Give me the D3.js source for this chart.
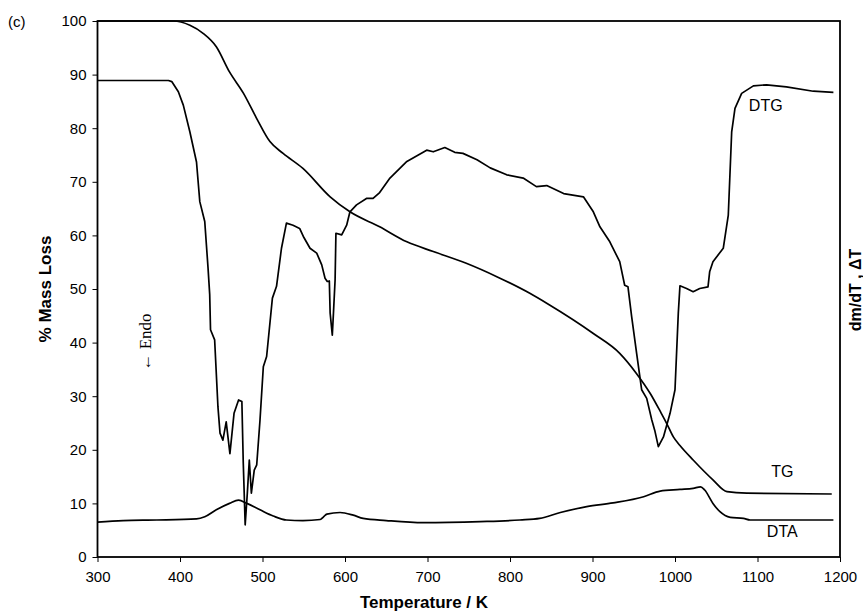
<!DOCTYPE html>
<html>
<head>
<meta charset="utf-8">
<script src="https://cdn.jsdelivr.net/npm/d3@7"></script>
<style>
  body { margin: 0; background: #fff; }
  svg { display: block; font-family: Arial, "Liberation Sans", sans-serif; }
</style>
</head>
<body>
<svg id="chart"></svg>
<script>
// Temperature (K) / value pairs
const tgTemp = [300, 392, 412, 428, 444, 460, 477, 493, 509, 525, 549, 582, 606, 642, 675, 707, 747, 784, 824, 845, 901, 933, 953, 970, 982, 990, 998, 1006, 1022, 1046, 1063, 1087, 1190];
const tgValue = [100, 100, 99.2, 97.7, 95.2, 90.5, 86.5, 81.8, 77.5, 75.3, 72.5, 67.2, 64.4, 61.6, 58.8, 57.0, 54.8, 52.3, 49.2, 47.3, 41.7, 38.0, 34.3, 30.5, 27.2, 24.9, 22.4, 20.8, 18.1, 14.4, 12.2, 11.9, 11.75];

const dtgTemp = [300, 386, 390, 398, 404, 412, 420, 424, 430, 434, 436, 437, 442, 446, 448.5, 452, 456, 460.5, 465.5, 471, 475, 476.7, 479, 481.6, 484, 486.5, 490, 493, 497, 501, 505, 512, 517, 523, 529, 537, 545, 549.5, 557.6, 565.7, 571.8, 575.8, 578.5, 581, 582, 584.6, 586, 588, 589, 596, 602, 606, 614, 626, 634, 642, 654.5, 675, 699, 707, 721, 733, 743, 760, 776, 796, 816, 832, 844.5, 865, 889, 901, 909, 921, 933, 939, 943, 947.5, 953.5, 959.6, 965.7, 971.8, 975.8, 979.8, 986, 994, 1000, 1004, 1006, 1014, 1022, 1030, 1040, 1042, 1046, 1058.5, 1064.6, 1068.7, 1072.7, 1080.8, 1095, 1111, 1135, 1167.6, 1192];
const dtgValue = [88.9, 88.9, 88.7, 86.8, 84.3, 79.3, 73.7, 66.3, 62.6, 53.9, 49, 42.4, 40.5, 28.0, 23.1, 21.8, 25.2, 19.3, 26.8, 29.3, 29.0, 17.5, 6.0, 11.9, 18.1, 11.9, 16.2, 17.2, 25.6, 35.5, 37.4, 48.3, 50.5, 57.6, 62.3, 61.9, 61.3, 59.8, 57.6, 56.7, 54.5, 52.0, 51.4, 51.5, 45.5, 41.4, 45.5, 51.7, 60.4, 60.1, 61.9, 64.4, 65.7, 66.9, 66.9, 68.0, 70.7, 73.8, 75.9, 75.6, 76.4, 75.5, 75.3, 74.1, 72.6, 71.3, 70.7, 69.1, 69.3, 67.8, 67.2, 64.4, 61.6, 58.8, 55.1, 50.7, 50.4, 44.8, 38.0, 31.2, 29.6, 25.6, 23.4, 20.6, 22.4, 26.8, 31.2, 45.5, 50.6, 50.1, 49.5, 50.1, 50.4, 53.2, 55.1, 57.6, 63.8, 79.3, 83.7, 86.5, 87.9, 88.1, 87.7, 86.9, 86.7];

const dtaTemp = [300, 331, 372, 420, 430, 444, 460, 471, 481, 497, 513, 529, 549, 570, 574, 578, 594, 610, 622, 650, 695, 764, 812, 836, 861, 893, 925, 962, 982, 1006, 1022, 1031, 1036, 1046, 1054.5, 1067, 1083, 1091, 1192];
const dtaValue = [6.5, 6.8, 6.9, 7.1, 7.5, 8.8, 10.0, 10.6, 10.0, 8.8, 7.65, 6.9, 6.8, 7.0, 7.5, 8.0, 8.3, 7.8, 7.2, 6.8, 6.4, 6.6, 6.9, 7.2, 8.3, 9.4, 10.1, 11.25, 12.3, 12.6, 12.8, 13.1, 12.5, 10.0, 8.45, 7.4, 7.2, 6.9, 6.9];

const xTicks = [300, 400, 500, 600, 700, 800, 900, 1000, 1100, 1200];
const yTicks = [0, 10, 20, 30, 40, 50, 60, 70, 80, 90, 100];

document.addEventListener("DOMContentLoaded", function () {
  const width = 863;
  const height = 613;
  const left = 97.5, right = 840, top = 21, bottom = 557;

  const svg = d3.select("#chart").attr("width", width).attr("height", height);

  const x = d3.scaleLinear().domain([300, 1200]).range([left, right]);
  const y = d3.scaleLinear().domain([0, 100]).range([bottom, top]);

  // axes
  const xAxis = svg
    .append("g")
    .attr("transform", `translate(0,${bottom})`)
    .call(
      d3.axisBottom(x).tickValues(xTicks).tickFormat(d3.format("d")).tickSize(5).tickPadding(9)
    );
  const yAxis = svg
    .append("g")
    .attr("transform", `translate(${left},0)`)
    .call(d3.axisLeft(y).tickValues(yTicks).tickSize(5).tickPadding(6));

  [xAxis, yAxis].forEach((a) => {
    a.select(".domain").remove();
    a.selectAll("line").attr("stroke", "#000").attr("stroke-width", 1);
    a.selectAll("text")
      .attr("fill", "#000")
      .style("font-family", "Arial, 'Liberation Sans', sans-serif")
      .style("font-size", "15px");
  });

  // plot frame
  svg
    .append("rect")
    .attr("x", left)
    .attr("y", top)
    .attr("width", right - left)
    .attr("height", bottom - top)
    .attr("fill", "none")
    .attr("stroke", "#000")
    .attr("stroke-width", 1.8);

  const series = [
    { t: tgTemp, v: tgValue, curve: d3.curveMonotoneX },
    { t: dtgTemp, v: dtgValue, curve: d3.curveLinear },
    { t: dtaTemp, v: dtaValue, curve: d3.curveMonotoneX },
  ];

  series.forEach((s) => {
    const line = d3
      .line()
      .x((d, i) => x(s.t[i]))
      .y((d) => y(d))
      .curve(s.curve);
    svg
      .append("path")
      .attr("d", line(s.v))
      .attr("fill", "none")
      .attr("stroke", "#000")
      .attr("stroke-width", 1.7)
      .attr("stroke-linejoin", "round");
  });

  // curve labels
  const labels = [
    { text: "DTG", t: 1110, v: 83.3 },
    { text: "TG", t: 1130, v: 15.0 },
    { text: "DTA", t: 1130, v: 3.8 },
  ];
  svg
    .selectAll(".curve-label")
    .data(labels)
    .join("text")
    .attr("class", "curve-label")
    .attr("x", (d) => x(d.t))
    .attr("y", (d) => y(d.v))
    .attr("text-anchor", "middle")
    .style("font-size", "16px")
    .text((d) => d.text);

  svg
    .append("text")
    .attr("transform", `translate(151,342) rotate(-90)`)
    .attr("text-anchor", "middle")
    .style("font-family", "'Liberation Serif', 'Times New Roman', serif")
    .style("font-size", "17px")
    .text("\u2190 Endo");

  // titles
  svg
    .append("text")
    .attr("x", 424)
    .attr("y", 608)
    .attr("text-anchor", "middle")
    .style("font-size", "17px")
    .style("font-weight", "bold")
    .text("Temperature /  K");

  svg
    .append("text")
    .attr("transform", `translate(51,${(top + bottom) / 2}) rotate(-90)`)
    .attr("text-anchor", "middle")
    .style("font-size", "17px")
    .style("font-weight", "bold")
    .text("% Mass Loss");

  svg
    .append("text")
    .attr("transform", `translate(861,290) rotate(-90)`)
    .attr("text-anchor", "middle")
    .style("font-size", "16px")
    .style("font-weight", "bold")
    .text("dm/dT , \u0394T");

  svg
    .append("text")
    .attr("x", 8)
    .attr("y", 27)
    .style("font-size", "15px")
    .text("(c)");
});
</script>
</body>
</html>
